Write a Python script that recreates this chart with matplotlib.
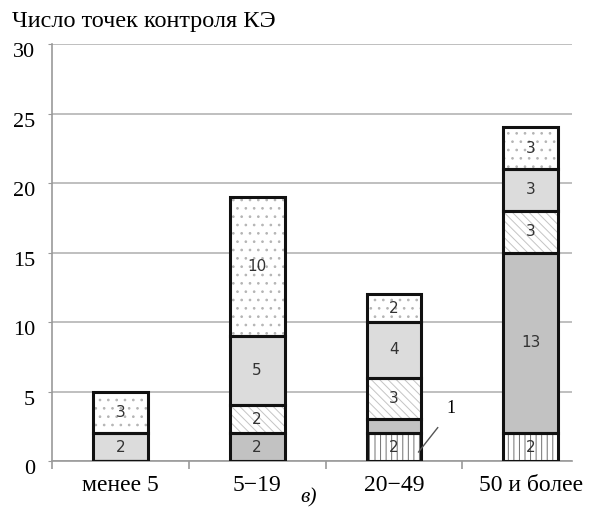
import numpy as np
import matplotlib.pyplot as plt
from matplotlib.transforms import ScaledTranslation

# categories and stacked segments (bottom to top)
categories = ["менее 5", "5−19", "20−49", "50 и более"]
vert_lines = [0, 0, 2, 2]
dark_gray = [0, 2, 1, 13]
diagonal = [0, 2, 3, 3]
light_gray = [2, 5, 4, 3]
dotted = [3, 10, 2, 3]

series = [vert_lines, dark_gray, diagonal, light_gray, dotted]
fills = ["white", "#c2c2c2", "white", "#dcdcdc", "white"]
hatches = ["|||", None, "\\\\\\\\", None, ".."]
hatch_cols = ["#707070", "#c2c2c2", "#c4c4c4", "#dcdcdc", "#b4b4b4"]

plt.rcParams["hatch.linewidth"] = 0.7

fig = plt.figure(figsize=(5.92, 5.07), dpi=100)
ax = fig.add_axes([0.0878, 0.0907, 0.878, 0.8225])

x = np.arange(len(categories))
w = 0.4
bottom = np.zeros(len(categories))
for vals, fc, h, hc in zip(series, fills, hatches, hatch_cols):
    vals = np.array(vals, dtype=float)
    # fill + hatch layer
    ax.bar(x, vals, w, bottom=bottom, color=fc, edgecolor=hc, hatch=h, linewidth=0, zorder=2)
    # outline layer
    ax.bar(x, vals, w, bottom=bottom, color="none", edgecolor="#111111", linewidth=2.2, zorder=3)
    for i, v in enumerate(vals):
        if v >= 2:
            ax.text(x[i], bottom[i] + v / 2, f"{int(v)}", ha="center", va="center",
                    fontsize=11, color="#333333", family="DejaVu Sans", zorder=4)
    bottom += vals

# leader for the thin segment in the third bar
ax.plot([2.18, 2.32], [0.65, 2.4], color="#555555", lw=1, zorder=4, clip_on=False)
ax.text(2.42, 3.8, "1", ha="center", va="center", fontsize=13, family="Liberation Serif")

ax.set_xlim(-0.5, 3.3)
ax.set_ylim(0, 30)
ax.set_yticks(range(0, 31, 5))
ax.yaxis.grid(True, color="#b4b4b4", linewidth=1.2, zorder=0)
ax.set_axisbelow(True)

ax.set_xticks(x)
ax.set_xticklabels(categories)
ax.set_xticks([-0.5, 0.5, 1.5, 2.5], minor=True)
ax.tick_params(axis="x", which="major", length=0, pad=10)
ax.tick_params(axis="x", which="minor", length=6, color="#999999", width=1.2)
ax.tick_params(axis="y", length=3, color="#999999", pad=9)
for lab in ax.get_xticklabels() + ax.get_yticklabels():
    lab.set_fontfamily("Liberation Serif")
    lab.set_fontsize(17)
# y labels sit a little below their grid lines
shift = ScaledTranslation(0, -6 / 100, fig.dpi_scale_trans)
for lab in ax.get_yticklabels():
    lab.set_fontsize(16)
    lab.set_transform(lab.get_transform() + shift)

for s in ["top", "right"]:
    ax.spines[s].set_visible(False)
for s in ["left", "bottom"]:
    ax.spines[s].set_color("#999999")
    ax.spines[s].set_linewidth(1.2)

fig.text(0.02, 0.957, "Число точек контроля КЭ", fontsize=17.5, family="Liberation Serif",
         ha="left", va="center")
fig.text(0.522, 0.018, "в)", fontsize=15.5, family="Liberation Serif", style="italic",
         ha="center", va="center")

fig.savefig("out.png", dpi=100)
